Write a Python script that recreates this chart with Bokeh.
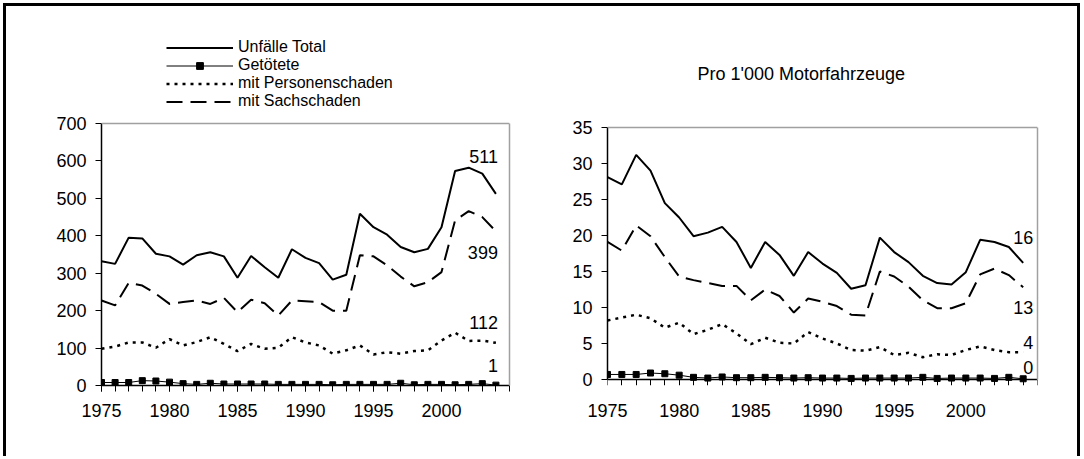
from bokeh.plotting import figure
from bokeh.models import Range1d, FixedTicker, Legend, LegendItem, Label, Span, LinearAxis
from bokeh.layouts import row
from bokeh.embed import file_html
from bokeh.resources import INLINE
from bokeh.core.properties import value

years = list(range(1975, 2005))

# absolute numbers
total_abs = [332, 325, 395, 393, 352, 345, 323, 348, 356, 345, 288, 346, 316, 288, 364,
             341, 327, 283, 296, 459, 423, 403, 370, 356, 365, 423, 573, 582, 566, 512]
sach_abs = [227, 214, 274, 267, 245, 218, 223, 227, 218, 234, 196, 229, 220, 187, 227,
            225, 223, 200, 200, 348, 345, 321, 291, 265, 276, 303, 441, 466, 450, 412]
pers_abs = [98, 104, 115, 115, 101, 124, 107, 116, 129, 111, 92, 111, 98, 101, 129,
            115, 107, 85, 94, 107, 83, 89, 85, 92, 94, 120, 141, 119, 120, 114]
tote_abs = [8, 8, 8, 13, 12, 9, 5, 3, 6, 4, 4, 4, 4, 3, 3,
            3, 3, 2, 3, 3, 3, 3, 6, 2, 3, 3, 2, 3, 5, 1]

# per 1'000 vehicles
total_rel = [28.1, 27.1, 31.2, 29.0, 24.5, 22.5, 19.9, 20.4, 21.2, 19.1, 15.5, 19.1, 17.3, 14.4, 17.7,
             16.1, 14.8, 12.6, 13.1, 19.7, 17.7, 16.3, 14.4, 13.4, 13.2, 14.9, 19.4, 19.1, 18.4, 16.2]
sach_rel = [19.1, 17.9, 21.4, 19.9, 17.0, 14.3, 13.8, 13.4, 13.0, 13.0, 11.0, 12.5, 11.6, 9.3, 11.25,
            10.8, 10.2, 9.0, 8.9, 15.0, 14.3, 12.9, 11.0, 9.9, 9.9, 10.6, 14.6, 15.4, 14.5, 12.8]
pers_rel = [8.2, 8.6, 9.0, 8.5, 7.2, 7.9, 6.3, 6.9, 7.7, 6.4, 4.9, 5.8, 5.1, 5.0, 6.6,
            5.7, 5.0, 4.1, 4.0, 4.5, 3.4, 3.7, 3.1, 3.5, 3.4, 4.1, 4.6, 4.1, 3.8, 3.8]
tote_rel = [0.7, 0.7, 0.7, 0.9, 0.8, 0.6, 0.3, 0.2, 0.35, 0.25, 0.25, 0.3, 0.25, 0.2, 0.25,
            0.2, 0.2, 0.15, 0.2, 0.2, 0.2, 0.2, 0.3, 0.15, 0.2, 0.2, 0.2, 0.15, 0.3, 0.1]

series_names = ["Unfälle Total", "Getötete", "mit Personenschaden", "mit Sachschaden"]
end_labels_abs = ["511", "1", "112", "399"]
end_labels_rel = ["16", "0", "4", "13"]
title_rel = "Pro 1'000 Motorfahrzeuge"

major_x = list(range(1975, 2001, 5))
minor_x = list(range(1975, 2006))
X_START, X_END = 1975, 2005
FONT = "Liberation Sans"
FS = "18px"
LEGEND_FS = "16px"
GRAY = "#a0a0a0"

# shared frame geometry (pixels); both plots use the same frame top/bottom
FIG_H = 450
FRAME_TOP = 27
FRAME_H = 352


def style_axis(ax):
    ax.axis_line_color = "black"
    ax.axis_line_width = 1.5
    ax.major_tick_line_color = "black"
    ax.major_tick_line_width = 1
    ax.major_tick_in = 0
    ax.major_tick_out = 6
    ax.minor_tick_line_color = None
    ax.major_label_text_font = FONT
    ax.major_label_text_font_size = FS
    ax.major_label_text_color = "black"


def make_fig(width, left, right, ymax, ystep, axis_px_from_bottom, axis_px_height):
    per_px = ymax / axis_px_height
    y0 = -axis_px_from_bottom * per_px
    y1 = y0 + FRAME_H * per_px
    p = figure(width=width, height=FIG_H, output_backend="svg", toolbar_location=None,
               x_range=Range1d(X_START, X_END), y_range=Range1d(y0, y1),
               min_border_left=left, min_border_right=right,
               min_border_top=FRAME_TOP, min_border_bottom=FIG_H - FRAME_TOP - FRAME_H,
               background_fill_color="white", border_fill_color="white")
    p.grid.visible = False
    p.outline_line_color = None
    style_axis(p.xaxis[0])
    style_axis(p.yaxis[0])
    p.xaxis.ticker = FixedTicker(ticks=major_x, minor_ticks=minor_x)
    p.xaxis.major_label_standoff = 12
    p.yaxis.ticker = FixedTicker(ticks=list(range(0, ymax + 1, ystep)))
    p.yaxis.bounds = (0, ymax)
    p.yaxis.major_label_standoff = 9
    if axis_px_from_bottom > 0:
        # labels stay at the frame bottom, line and ticks sit at value 0
        p.xaxis.axis_line_color = None
        p.xaxis.major_tick_line_color = None
        zero_axis = LinearAxis(fixed_location=0, ticker=FixedTicker(ticks=[], minor_ticks=minor_x),
                               axis_line_color="black", axis_line_width=1.5,
                               minor_tick_line_color="black", minor_tick_line_width=1,
                               minor_tick_in=0, minor_tick_out=6)
        p.add_layout(zero_axis, "below")
    else:
        p.xaxis.minor_tick_line_color = "black"
        p.xaxis.minor_tick_line_width = 1
        p.xaxis.minor_tick_in = 0
        p.xaxis.minor_tick_out = 6
    # grey plot-area border (top and right)
    p.add_layout(Span(location=ymax, dimension="width", line_color=GRAY, line_width=1.5))
    rax = LinearAxis(bounds=(0, ymax), ticker=FixedTicker(ticks=[]),
                     axis_line_color=GRAY, axis_line_width=1.5,
                     major_tick_line_color=None, minor_tick_line_color=None)
    p.add_layout(rax, "right")
    return p


def draw(p, total, tote, pers, sach):
    r1 = p.line(years, total, line_color="black", line_width=2)
    r2a = p.line(years, tote, line_color="black", line_width=1)
    r2b = p.scatter(years, tote, marker="square", size=6, fill_color="black", line_color="black")
    r3 = p.line(years, pers, line_color="black", line_width=2.5, line_dash="3 5")
    r4 = p.line(years, sach, line_color="black", line_width=2, line_dash="16 8")
    return [[r1], [r2a, r2b], [r3], [r4]]


def end_labels(p, series, labels, offsets, xoff):
    for s, lab, off in zip(series, labels, offsets):
        p.text(x=[years[-1]], y=[s[-1]], text=[lab], x_offset=xoff, y_offset=off,
               text_align="right", text_baseline="middle",
               text_font=value(FONT), text_font_size=FS, text_color="black")


# left figure: frame x 101..509, value axis 0..700 over 262px at frame bottom
p1 = make_fig(534, 95, 31, 700, 100, 0, 262)
rends = draw(p1, total_abs, tote_abs, pers_abs, sach_abs)
end_labels(p1, [total_abs, tote_abs, pers_abs, sach_abs], end_labels_abs, [-37, -20, -20, 21], 2)
legend = Legend(items=[LegendItem(label=n, renderers=r) for n, r in zip(series_names, rends)],
                location=(65, 275), orientation="vertical",
                glyph_width=67, glyph_height=17, label_height=17, label_standoff=5,
                spacing=0, padding=0, margin=0,
                border_line_color=None, background_fill_alpha=0,
                label_text_font=FONT, label_text_font_size=LEGEND_FS, label_text_color="black")
p1.add_layout(legend, "center")

# right figure: frame x 607..1037, value axis 0..35 over 252px, 6px above frame bottom
p2 = make_fig(537, 67, 40, 35, 5, 6, 252)
draw(p2, total_rel, tote_rel, pers_rel, sach_rel)
end_labels(p2, [total_rel, tote_rel, pers_rel, sach_rel], end_labels_rel, [-25, -11, -10, 20], 10)
p2.add_layout(Label(x=90, y=312, x_units="screen", y_units="screen", text=title_rel,
                    text_align="left", text_baseline="middle",
                    text_font=FONT, text_font_size=FS, text_color="black"))

layout = row(p1, p2, styles={"border-top": "3px solid black", "border-left": "3px solid black",
                             "border-right": "3px solid black", "border-bottom": "none",
                             "margin-left": "3px", "margin-top": "3px"})

open("out.html", "w").write(file_html(layout, INLINE))
